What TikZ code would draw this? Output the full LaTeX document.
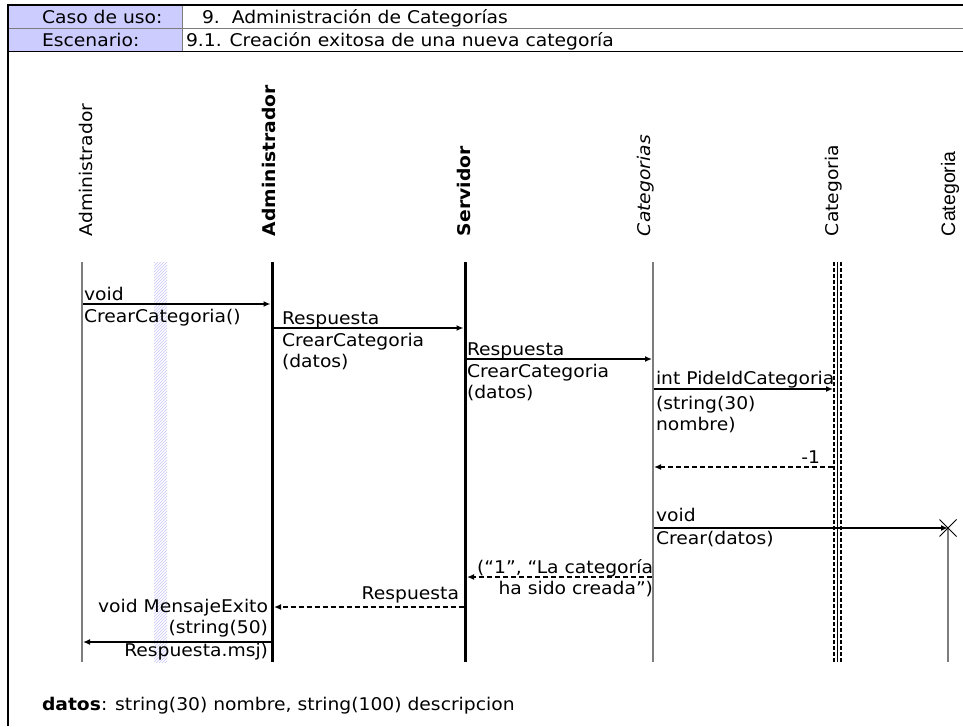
\documentclass[tikz,border=0pt]{standalone}
\usepackage{fontspec}
\setmainfont[FakeStretch=1.07]{DejaVu Sans}
\newfontfamily\arialfont{Liberation Sans}
\usetikzlibrary{arrows.meta,patterns,shapes.misc}
\definecolor{cellblue}{RGB}{204,204,255}
\definecolor{hatchblue}{RGB}{196,196,246}
\definecolor{lifegray}{RGB}{125,125,125}
\begin{document}
\begin{tikzpicture}[x=1pt,y=-1pt,
  font=\fontsize{17.5}{21}\selectfont,
  every node/.style={inner sep=0pt, outer sep=0pt},
  head/.style={rotate=90, anchor=base west},
  thinlife/.style={draw=lifegray, line width=1.5pt},
  thicklife/.style={draw=black, line width=3pt},
  dashlife/.style={draw=black, line width=2pt, dash pattern=on 4pt off 2pt},
  msg/.style={draw=black, line width=2pt, -{Latex[length=7pt,width=6pt]}},
  ret/.style={draw=black, line width=2pt, dash pattern=on 5pt off 3pt, -{Latex[length=7pt,width=6pt]}},
  lblup/.style={anchor=base west},
  lbldown/.style={anchor=north west, align=left},
]
\useasboundingbox (0,0) rectangle (963,726);

% header table
\fill[cellblue] (8,5) rectangle (182,51);
\draw[lifegray, line width=1pt] (8,28) -- (963,28);
\draw[black, line width=1pt] (8,51) -- (963,51);
\draw[lifegray, line width=1pt] (182,5) -- (182,51);
\draw[black, line width=2.5pt] (963,5) -- (8,5) -- (8,726);
\node[anchor=base west] (caso) at (42,23) {Caso de uso:};
\node[anchor=base west] (casoval) at (202,23) {9.\ \ Administración de Categorías};
\node[anchor=base west] (esc) at (42,46) {Escenario:};
\node[anchor=base west] (escval) at (186,46) {9.1. Creación exitosa de una nueva categoría};

% lifeline headings
\node[head] (h1) at (92,236) {Administrador};
\node[head] (h2) at (275,236) {\bfseries Administrador};
\node[head] (h3) at (470,236) {\bfseries Servidor};
\node[head] (h4) at (650,236) {\itshape Categorias};
\node[head] (h5) at (838,236) {Categoria};
\node[head] (h6) at (955,236) {\arialfont\fontsize{19.5}{21}\selectfont Categoria};

% lifelines
\coordinate (a1t) at (82,262);   \coordinate (a1b) at (82,662);
\coordinate (a2t) at (272,262);  \coordinate (a2b) at (272,662);
\coordinate (svt) at (465,262);  \coordinate (svb) at (465,662);
\coordinate (cst) at (653,262);  \coordinate (csb) at (653,662);
\coordinate (cat) at (837.5,262); \coordinate (cab) at (837.5,662);
\coordinate (nct) at (948,528);  \coordinate (ncb) at (948,662);

\fill[pattern=north east lines, pattern color=hatchblue] (154,262) rectangle (167,662);
\draw[thinlife] (a1t) -- (a1b);
\draw[thicklife] (a2t) -- (a2b);
\draw[thicklife] (svt) -- (svb);
\draw[thinlife] (cst) -- (csb);
\draw[dashlife] ([xshift=-3.5pt]cat) -- ([xshift=-3.5pt]cab);
\draw[dashlife] ([xshift=3.5pt]cat) -- ([xshift=3.5pt]cab);
\draw[black, line width=1pt] (cat) -- (cab);
\draw[thinlife] (nct) -- (ncb);

% message end points
\coordinate (m1s) at (83,304);    \coordinate (m1e) at (270.5,304);
\coordinate (m2s) at (274,328);   \coordinate (m2e) at (463.5,328);
\coordinate (m3s) at (467,359);   \coordinate (m3e) at (652,359);
\coordinate (m4s) at (654,389);   \coordinate (m4e) at (833,389);
\coordinate (r5s) at (833,467);   \coordinate (r5e) at (654,467);
\coordinate (m6s) at (654,528);   \coordinate (m6e) at (948,528);
\coordinate (r7s) at (652,577);   \coordinate (r7e) at (467,577);
\coordinate (r8s) at (463.5,607); \coordinate (r8e) at (274,607);
\coordinate (m9s) at (270.5,642); \coordinate (m9e) at (83,642);

% messages
\draw[msg] (m1s) -- (m1e);
\node[lblup] (t1a) at (84,300) {void};
\node[lbldown] (t1b) at (84,309) {CrearCategoria()};

\draw[msg] (m2s) -- (m2e);
\node[lblup] (t2a) at (282,324) {Respuesta};
\node[lbldown] (t2b) at (282,333) {CrearCategoria\\(datos)};

\draw[msg] (m3s) -- (m3e);
\node[lblup] (t3a) at (467,355) {Respuesta};
\node[lbldown] (t3b) at (467,364) {CrearCategoria\\(datos)};

\draw[msg] (m4s) -- (m4e);
\node[lblup] (t4a) at (656,384) {int PideIdCategoria};
\node[lbldown] (t4b) at (656,396) {(string(30)\\nombre)};

\draw[ret] (r5s) -- (r5e);
\node[anchor=base east] (t5) at (820,463) {-1};

\draw[msg] (m6s) -- (m6e);
\node[draw, cross out, line width=0.8pt, minimum size=17pt] (kill) at (m6e) {};
\node[lblup] (t6a) at (656,521) {void};
\node[lbldown] (t6b) at (656,531) {Crear(datos)};

\draw[ret] (r7s) -- (r7e);
\node[anchor=north east, align=right] (t7) at (653,559) {(“1”, “La categoría\\ha sido creada”)};

\draw[ret] (r8s) -- (r8e);
\node[anchor=base east] (t8) at (459,599) {Respuesta};

\draw[msg] (m9s) -- (m9e);
\node[anchor=north east, align=right] (t9a) at (268,599) {void MensajeExito\\(string(50)};
\node[anchor=north east] (t9b) at (268,643) {Respuesta.msj)};

% note
\node[anchor=base west] (note) at (42,710) {\textbf{datos}: string(30) nombre, string(100) descripcion};
\end{tikzpicture}
\end{document}
